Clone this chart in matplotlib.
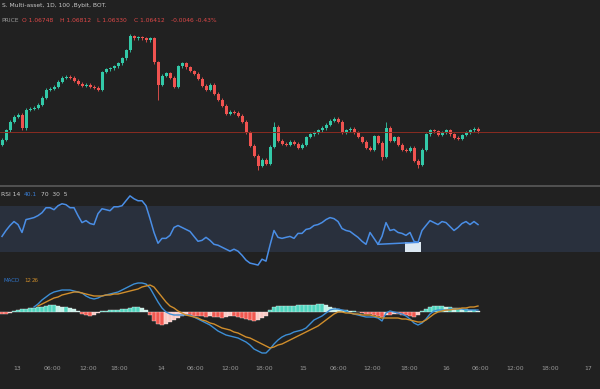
import numpy as np
import matplotlib.pyplot as plt
from matplotlib.patches import Rectangle
from matplotlib.lines import Line2D

# price candles (open = previous close)
closes = [60, 70, 78, 83, 85, 72, 90, 91, 92, 95,
          102, 110, 111, 113, 118, 122, 123, 122, 119, 116,
          114, 115, 113, 112, 110, 128, 131, 132, 134, 137,
          142, 150, 164, 162, 163, 162, 160, 162, 138, 115,
          124, 127, 122, 113, 134, 137, 133, 129, 126, 121,
          114, 110, 115, 106, 100, 94, 86, 88, 87, 84,
          78, 68, 54, 44, 34, 40, 36, 53, 73, 59,
          56, 55, 58, 56, 52, 55, 63, 66, 68, 70,
          72, 75, 79, 81, 78, 68, 70, 71, 68, 63,
          58, 52, 50, 64, 57, 43, 72, 59, 63, 55,
          50, 49, 52, 39, 35, 50, 66, 70, 69, 65,
          68, 70, 66, 62, 61, 65, 68, 70, 71, 69]
first_open = 55
long_highs = {68: 78, 96: 78, 32: 166}
long_lows = {39: 100, 64: 30, 104: 32, 95: 40}
last_price = 68

rsi = [43.6, 48.7, 53.0, 56.4, 53.8, 47.0, 58.1, 58.9, 59.8, 61.5,
       64.0, 68.3, 68.3, 66.6, 70.0, 71.7, 70.9, 68.3, 68.3, 61.5,
       55.5, 57.2, 54.7, 53.8, 63.2, 67.4, 66.6, 65.7, 69.1, 69.1,
       70.0, 74.3, 78.5, 76.0, 74.3, 74.3, 70.0, 58.9, 47.0, 37.7,
       41.9, 41.9, 44.5, 51.3, 53.0, 51.3, 49.6, 47.9, 43.6, 39.4,
       40.2, 42.8, 40.2, 36.8, 36.0, 34.3, 32.6, 30.9, 32.6, 30.9,
       27.4, 23.2, 20.6, 19.8, 18.9, 24.0, 22.3, 36.0, 48.7, 42.8,
       41.9, 42.8, 43.6, 41.9, 46.2, 46.2, 49.6, 50.4, 53.0, 53.8,
       55.5, 58.1, 59.8, 58.9, 56.4, 50.4, 48.7, 47.9, 45.3, 42.8,
       39.4, 36.8, 47.0, 41.9, 36.8, 43.6, 55.5, 48.7, 49.6, 47.0,
       46.2, 44.5, 47.0, 39.4, 38.5, 48.7, 53.0, 57.2, 55.5, 53.8,
       56.4, 55.5, 52.1, 48.7, 51.3, 54.7, 56.4, 53.8, 56.4, 53.8]
rsi_upper, rsi_lower = 70, 30
glitch_from, glitch_to = 94, 104
marker_box = (101, 105, 30, 38.5)   # start, end, low, high

macd = [None] * 8 + [
    5, 8, 12, 15, 18, 20, 21, 22, 22, 22,
    21, 20, 19, 16, 14, 13, 14, 16, 17, 18,
    19, 20, 22, 24, 26, 28, 29, 29, 28, 24,
    17, 10, 4, 0, -2, -3, -3, -3, -3, -3,
    -5, -7, -9, -11, -13, -16, -19, -21, -23, -24,
    -25, -26, -28, -30, -33, -37, -39, -41, -41, -37,
    -32, -28, -25, -23, -22, -20, -19, -18, -16, -12,
    -8, -6, -4, -1, 2, 3, 3, 2, 1, -1,
    -2, -3, -4, -5, -5, -5, -6, -9, -1, 1,
    0, -1, -2, -4, -7, -11, -13, -11, -7, -2,
    1, 2, 2, 2, 3, 3, 3, 3, 2, 2,
    2, 2]
signal = [None] * 9 + [
    6, 8, 10, 12, 14, 15, 17, 18, 19, 20,
    20, 19, 18, 17, 16, 16, 16, 17, 17, 18,
    18, 19, 20, 21, 22, 23, 25, 26, 27, 25,
    20, 15, 10, 6, 4, 1, -1, -3, -4, -5,
    -6, -8, -9, -11, -12, -14, -16, -17, -18, -20,
    -21, -23, -25, -26, -28, -30, -32, -34, -36, -35,
    -33, -32, -30, -28, -26, -24, -22, -20, -18, -16,
    -14, -11, -8, -5, -2, 0, 0, -1, -1, -2,
    -2, -3, -3, -3, -4, -5, -6, -6, -6, -6,
    -6, -7, -7, -8, -9, -10, -10, -8, -5, -2,
    0, 1, 2, 2, 3, 3, 4, 4, 5, 5, 6]
hist = [-2, -2, -1, 1, 2, 3, 3, 4, 4, 5,
        5, 6, 7, 7, 6, 5, 5, 4, 3, 1,
        -2, -3, -4, -3, -1, 1, 1, 2, 2, 2,
        3, 3, 4, 5, 5, 4, 2, -3, -9, -12,
        -13, -12, -10, -8, -6, -4, -3, -3, -4, -4,
        -4, -5, -4, -5, -5, -6, -5, -4, -4, -5,
        -6, -7, -8, -9, -8, -6, -4, 2, 5, 6,
        6, 6, 6, 6, 7, 7, 7, 7, 7, 8,
        8, 7, 5, 4, 3, 2, 2, 1, 1, 0,
        -1, -2, -2, -3, -4, -5, -3, -3, -2, -2,
        -3, -3, -4, -5, -3, 1, 3, 5, 6, 6,
        6, 5, 5, 4, 4, 3, 3, 2, 2, 1]

tick_pos = [3.8, 12.5, 21.5, 29.3, 39.8, 48.3, 57.0, 65.5, 75.3,
            84.0, 92.5, 101.8, 111.0, 119.5, 128.3, 137.0, 146.5]
tick_labels = ["13", "06:00", "12:00", "18:00", "14", "06:00", "12:00", "18:00", "15",
               "06:00", "12:00", "18:00", "16", "06:00", "12:00", "18:00", "17"]

BG = '#212121'
UP = '#33c9a8'
DOWN = '#ef5350'
H = 389.0

fig = plt.figure(figsize=(6, 3.89), dpi=100, facecolor=BG)

def box(top, bottom):
    return [0, 1 - bottom / H, 1, (bottom - top) / H]

ax_p = fig.add_axes(box(0, 185))
ax_r = fig.add_axes(box(186, 268))
ax_m = fig.add_axes(box(268, 358))

N = len(closes)
x = np.arange(N)
for ax in (ax_p, ax_r, ax_m):
    ax.set_facecolor(BG)
    ax.set_xlim(-0.5, 149.5)
    ax.set_yticks([])
    ax.set_xticks([])
    for s in ax.spines.values():
        s.set_visible(False)

# candles
opens = [first_open] + closes[:-1]
cols, bottoms, heights, highs, lows = [], [], [], [], []
for i in range(N):
    o, c = opens[i], closes[i]
    cols.append(UP if c >= o else DOWN)
    bottoms.append(min(o, c))
    heights.append(max(abs(c - o), 0.8))
    highs.append(long_highs.get(i, max(o, c) + 1.5))
    lows.append(long_lows.get(i, min(o, c) - 1.5))
ax_p.vlines(x, lows, highs, colors=cols, lw=0.6)
ax_p.bar(x, heights, bottom=bottoms, width=0.75, color=cols, lw=0)
ax_p.axhline(last_price, color='#8a2c22', lw=0.7)
ax_p.set_ylim(15, 200)
fig.add_artist(Line2D([0, 1], [1 - 185.5 / H] * 2, color='#5a5a5a', lw=1.2))

# rsi
ax_r.axhspan(rsi_lower, rsi_upper, color='#29303d', lw=0)
ax_r.plot(x, rsi, color='#4a8ee6', lw=1.1)
ax_r.plot([glitch_from, glitch_to], [rsi[glitch_from], rsi[glitch_to]], color='#4a8ee6', lw=1.1)
b0, b1, bl, bh = marker_box
ax_r.add_patch(Rectangle((b0 - 0.25, bl), b1 - b0, bh - bl, color='#dce8f2', lw=0))
ax_r.set_ylim(16.4, 87.0)

# macd
hcols = []
for i, v in enumerate(hist):
    prev = hist[i - 1] if i > 0 else 0
    if v >= 0:
        hcols.append('#4fd6bf' if v >= prev else '#c4f1e8')
    else:
        hcols.append('#f2574f' if v <= prev else '#fbc9c4')
ax_m.bar(x, hist, width=0.85, color=hcols, edgecolor='#f4f4f4', lw=0.25)
macd_a = np.array([np.nan if v is None else v for v in macd], dtype=float)
sig_a = np.array([np.nan if v is None else v for v in signal], dtype=float)
ax_m.plot(x, macd_a, color='#3d8fd6', lw=1.0)
ax_m.plot(x, sig_a, color='#d08e2c', lw=1.0)
ax_m.set_ylim(-46, 44)
ax_m.set_xticks(tick_pos)
ax_m.set_xticklabels(tick_labels, fontsize=4.4, color='#9a9a9a')
ax_m.tick_params(axis='x', length=0, pad=6)

# header texts
fs = 4.3
def ytop(p):
    return 1 - p / H

fig.text(0.003, ytop(6), "S. Multi-asset, 1D, 100 ,Bybit, BOT.",
         color='#c9c9c9', fontsize=fs, va='center')
fig.text(0.002, ytop(20), "PRICE", color='#9a9a9a', fontsize=fs, va='center')
for px, s in [(22, "O 1.06748"), (60, "H 1.06812"), (97, "L 1.06330"),
              (134, "C 1.06412"), (171, "-0.0046 -0.43%")]:
    fig.text(px / 600, ytop(20), s, color='#e04848', fontsize=fs, va='center')

fig.text(0.002, ytop(195), "RSI 14", color='#c9c9c9', fontsize=fs, va='center')
fig.text(24 / 600, ytop(195), "40.1", color='#3a7fd5', fontsize=fs, va='center')
fig.text(41 / 600, ytop(195), "70  30  5", color='#c9c9c9', fontsize=fs, va='center')

fig.text(3 / 600, ytop(281), "MACD", color='#2f74c8', fontsize=4.0, va='center')
fig.text(24 / 600, ytop(281), "12", color='#c98a2a', fontsize=4.0, va='center')
fig.text(32 / 600, ytop(281), "26", color='#c98a2a', fontsize=4.0, va='center')

fig.savefig('out.png', dpi=100, facecolor=BG)
